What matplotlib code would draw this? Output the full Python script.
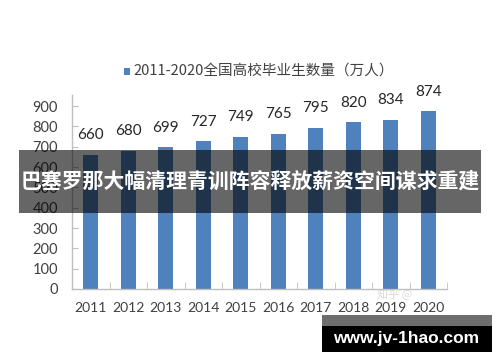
import matplotlib
matplotlib.use("Agg")
import matplotlib.pyplot as plt
from matplotlib.patches import Rectangle

years = ["2011", "2012", "2013", "2014", "2015", "2016", "2017", "2018", "2019", "2020"]
values = [660, 680, 699, 727, 749, 765, 795, 820, 834, 874]
legend_label = "2011-2020全国高校毕业生数量（万人）"
yticks = [0, 100, 200, 300, 400, 500, 600, 700, 800, 900]
banner_text = "巴塞罗那大幅清理青训阵容释放薪资空间谋求重建"
site_text = "www.jv-1hao.com"

plt.rcParams['font.family'] = ['Lato', 'Noto Sans CJK SC', 'DejaVu Sans']

W, H = 500, 362
fig = plt.figure(figsize=(W / 100, H / 100), dpi=100)
fig.patch.set_facecolor("white")

ax = fig.add_axes([72 / W, 1 - 289 / H, (447 - 72) / W, (289 - 95) / H])
bar_color = "#4f81bd"
x = list(range(len(years)))
bars = ax.bar(x, values, width=0.39, color=bar_color, zorder=2)
ax.set_xlim(-0.5, len(years) - 0.5)
ax.set_ylim(0, 955)
ax.set_yticks(yticks)
ax.set_yticklabels([str(v) for v in yticks], fontsize=10.5, color="#404040")
ax.set_xticks(x)
ax.set_xticklabels(years, fontsize=10, color="#404040")
ax.tick_params(axis="x", length=0, pad=9)
ax.tick_params(axis="y", direction="in", length=4, color="#bfbfbf", pad=10)
ax.set_xticks([i + 0.5 for i in range(-1, len(years))], minor=True)
ax.tick_params(axis="x", which="minor", direction="in", length=5, color="#bfbfbf")
for s in ["top", "right"]:
    ax.spines[s].set_visible(False)
for s in ["left", "bottom"]:
    ax.spines[s].set_color("#bfbfbf")
    ax.spines[s].set_linewidth(1)

for xi, v in zip(x, values):
    ax.annotate(str(v), (xi, v), xytext=(0, 9), textcoords="offset points",
                ha="center", va="bottom", fontsize=11, color="#262626")

# legend
fig.patches.append(Rectangle((124 / W, 1 - 75 / H), 6 / W, 7 / H, transform=fig.transFigure,
                             facecolor=bar_color, edgecolor="none"))
fig.text(133 / W, 1 - 71 / H, legend_label, fontsize=10.5, color="#404040",
         ha="left", va="center", family=['Noto Sans CJK SC', 'DejaVu Sans'])

# faint watermark
fig.text(395 / W, 1 - 294 / H, "知乎 @", fontsize=8, color="#d0d0d0", alpha=0.8,
         ha="center", va="center", family=['Noto Sans CJK SC', 'DejaVu Sans'])

# banner overlay
fig.patches.append(Rectangle((19 / W, 1 - 213 / H), (481 - 19) / W, (213 - 150) / H,
                             transform=fig.transFigure, facecolor="black", alpha=0.6,
                             edgecolor="none", zorder=5))
fig.text(250 / W, 1 - 181 / H, banner_text, fontsize=15, color="white", fontweight="bold",
         ha="center", va="center", zorder=6, family=['Noto Sans CJK SC', 'DejaVu Sans'])

# site box
fig.patches.append(Rectangle((322 / W, 1 - 326 / H), (492 - 322) / W, (326 - 315) / H,
                             transform=fig.transFigure, facecolor="#6e6e6e", edgecolor="none", zorder=5))
fig.patches.append(Rectangle((322 / W, 1 - 352 / H), (492 - 322) / W, (352 - 326) / H,
                             transform=fig.transFigure, facecolor="black", edgecolor="none", zorder=5))
fig.text(406 / W, 1 - 338 / H, site_text, fontsize=12.5, color="white", fontweight="bold",
         ha="center", va="center", zorder=6, family=['Liberation Sans', 'DejaVu Sans'])

fig.savefig("out.png", dpi=100)
